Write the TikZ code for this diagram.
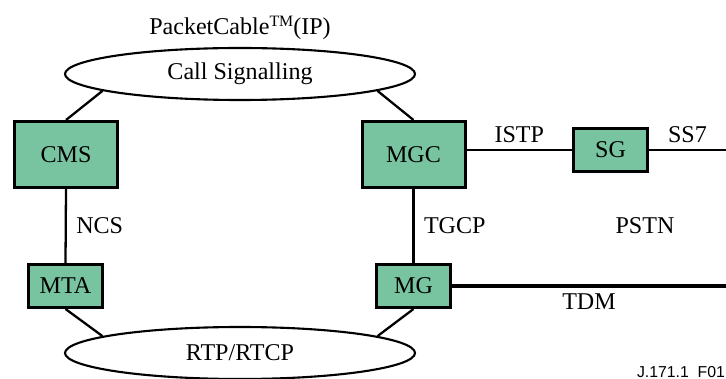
\documentclass[tikz,border=0pt]{standalone}
\usepackage{fontspec}
\setmainfont{Liberation Serif}
\setsansfont{Liberation Sans}
\usetikzlibrary{shapes.geometric}

\definecolor{boxgreen}{RGB}{120,196,160}
\tikzset{
  unit/.style={draw, line width=1.7pt, fill=boxgreen, inner sep=0pt},
  bigunit/.style={unit, minimum width=20.6mm, minimum height=13.2mm},
  smallunit/.style={unit, minimum width=14.8mm, minimum height=8.6mm},
  cloud/.style={draw, ellipse, line width=1.2pt, inner sep=0pt, minimum width=70mm, minimum height=10.4mm},
  link/.style={line width=1.3pt},
}

\begin{document}
\begin{tikzpicture}[x=0.2mm, y=-0.2mm, font=\fontsize{13.7}{16}\selectfont]
          \useasboundingbox (0, 0) rectangle (726, 379);

          \node (ip) at (240, 28) {PacketCable\raisebox{0.7ex}{\fontsize{9}{10}\selectfont TM}(IP)};
          \node[cloud] (sig) at (240, 74) {Call Signalling};
          \node[cloud] (rtp) at (240, 353) {RTP/RTCP};

          \node[bigunit] (cms) at (66, 154.5) {CMS};
          \node[bigunit] (mgc) at (413.5, 154.5) {MGC};
          \node[smallunit] (sg) at (610.5, 150) {SG};
          \node[smallunit] (mta) at (65.5, 286) {MTA};
          \node[smallunit] (mg) at (413.5, 286) {MG};

          \coordinate (ss7end) at (726, 150);
          \coordinate (tdmend) at (726, 286);

          \draw[link] (cms.north) -- (sig.187);
          \draw[link] (mgc.north) -- (sig.353);
          \draw[link] (mta.south) -- (rtp.173);
          \draw[link] (mg.south) -- (rtp.7);

          \draw[link] (cms.south) -- (mta.north) node[midway, right, xshift=2] {NCS};
          \draw[link] (mgc.south) -- (mg.north) node[midway, right, xshift=2] {TGCP};
          \draw[link] (sg.west -| mgc.east) -- (sg.west) node[midway, above] {ISTP};
          \draw[link] (sg.east) -- (ss7end) node[midway, above] {SS7};
          \draw[line width=2.3pt] (mg.east) -- (tdmend) node[midway, below] {TDM};

          \node (pstn) at (645, 226) {PSTN};
          \node[font=\sffamily\fontsize{9}{10}\selectfont] (fig) at (681, 372) {J.171.1\ \ F01};
        \end{tikzpicture}
\end{document}
